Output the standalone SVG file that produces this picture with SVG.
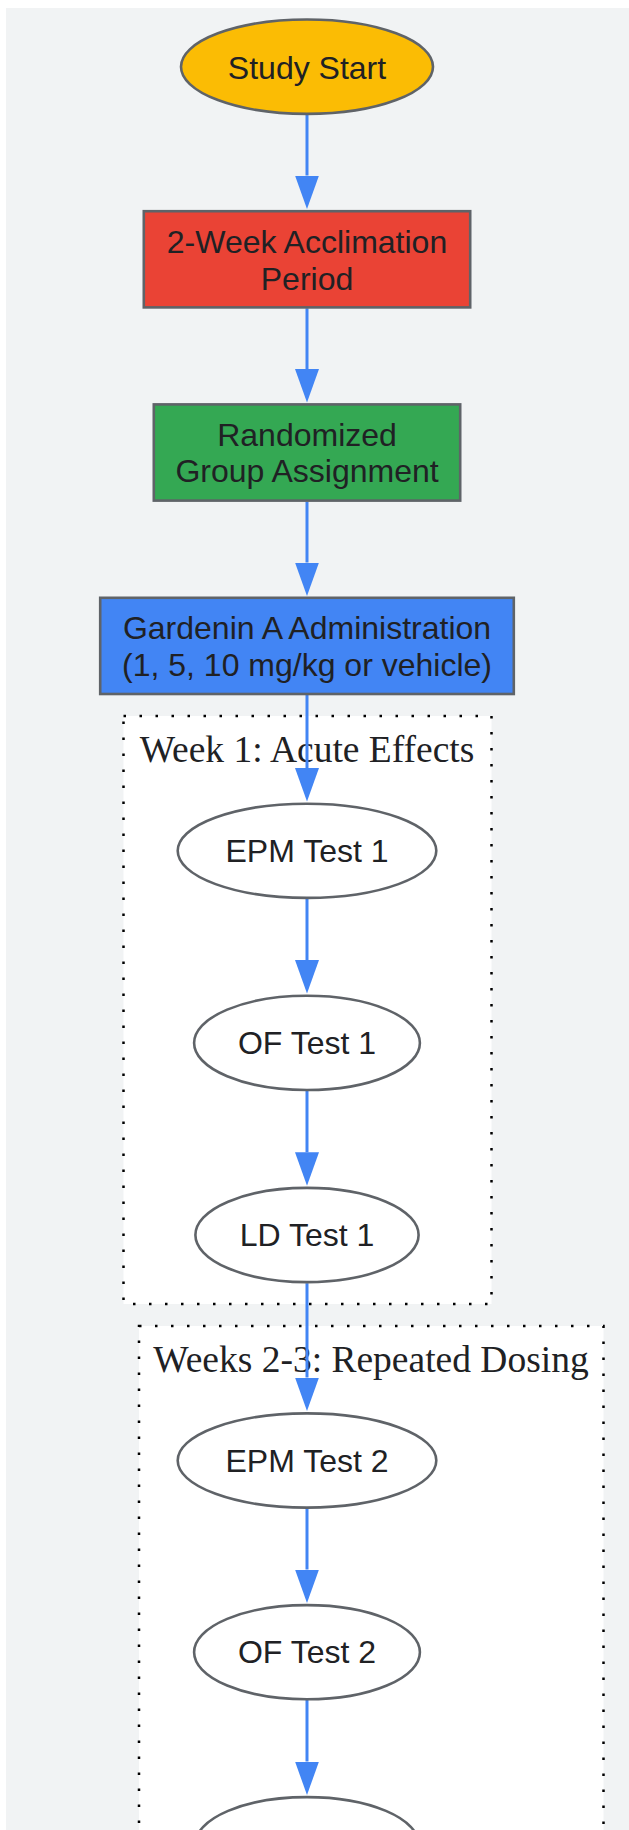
<svg xmlns="http://www.w3.org/2000/svg" width="629" height="1830" viewBox="0 0 629 1830">
<style>
.bg{fill:#F1F3F4}
.cl{fill:#ffffff;stroke:#000000;stroke-width:2.5;stroke-dasharray:2.5 13.5}
.ct{font-family:"Liberation Serif","Times New Roman",serif;font-size:37.5px;fill:#202124;text-anchor:middle}
.nd{stroke:#5F6368;stroke-width:2.6}
.t{font-family:"Liberation Sans",Arial,sans-serif;font-size:32px;fill:#202124;text-anchor:middle}
.e{stroke:#4285F4;stroke-width:3;fill:none;marker-end:url(#ah)}
</style>
<defs>
<marker id="ah" markerUnits="userSpaceOnUse" markerWidth="34" markerHeight="24" viewBox="0 0 34 24" refX="0" refY="12" orient="auto">
<path d="M0,0 L33.5,12 L0,24 Z" fill="#4285F4"/>
</marker>
</defs>
<rect class="bg" x="6" y="8" width="623" height="1822"/>
<g id="cluster_week1">
<rect class="cl" x="123.5" y="716" width="368" height="588"/>
<text class="ct" x="307" y="761.5">Week 1: Acute Effects</text>
</g>
<g id="cluster_weeks23">
<rect class="cl" x="139" y="1326" width="464.5" height="560"/>
<text class="ct" x="371" y="1372">Weeks 2-3: Repeated Dosing</text>
</g>
<g id="connectors">
<path class="e" d="M307,115 V175.5"/>
<path class="e" d="M307,308.3 V369"/>
<path class="e" d="M307,501.7 V562.5"/>
<path class="e" d="M307,695 V768"/>
<path class="e" d="M307,899 V960"/>
<path class="e" d="M307,1091 V1152.3"/>
<path class="e" d="M307,1283.2 V1377.5"/>
<path class="e" d="M307,1508.7 V1569.5"/>
<path class="e" d="M307,1700 V1761.5"/>
</g>
<g id="study_start">
<ellipse class="nd" cx="307" cy="66.7" rx="126" ry="47.2" fill="#FBBC04"/>
<text class="t" x="307" y="78.5">Study Start</text>
</g>
<g id="acclimation">
<rect class="nd" x="143.8" y="211.2" width="326.4" height="96.2" fill="#EA4335"/>
<text class="t" x="307" y="252.5">2-Week Acclimation</text>
<text class="t" x="307" y="289.5">Period</text>
</g>
<g id="randomization">
<rect class="nd" x="153.8" y="404.4" width="306.4" height="96.2" fill="#34A853"/>
<text class="t" x="307" y="445.5">Randomized</text>
<text class="t" x="307" y="482">Group Assignment</text>
</g>
<g id="administration">
<rect class="nd" x="100.2" y="597.8" width="413.6" height="96.2" fill="#4285F4"/>
<text class="t" x="307" y="639">Gardenin A Administration</text>
<text class="t" x="307" y="676">(1, 5, 10 mg/kg or vehicle)</text>
</g>
<g id="epm1">
<ellipse class="nd" cx="307" cy="850.8" rx="129.3" ry="47.1" fill="#ffffff"/>
<text class="t" x="307" y="862">EPM Test 1</text>
</g>
<g id="of1">
<ellipse class="nd" cx="307" cy="1042.9" rx="112.9" ry="47.1" fill="#ffffff"/>
<text class="t" x="307" y="1054">OF Test 1</text>
</g>
<g id="ld1">
<ellipse class="nd" cx="307" cy="1235" rx="111.6" ry="47.1" fill="#ffffff"/>
<text class="t" x="307" y="1246">LD Test 1</text>
</g>
<g id="epm2">
<ellipse class="nd" cx="307" cy="1460.5" rx="129.3" ry="47.1" fill="#ffffff"/>
<text class="t" x="307" y="1471.5">EPM Test 2</text>
</g>
<g id="of2">
<ellipse class="nd" cx="307" cy="1652.2" rx="112.9" ry="47.1" fill="#ffffff"/>
<text class="t" x="307" y="1663.2">OF Test 2</text>
</g>
<g id="ld2">
<ellipse class="nd" cx="307" cy="1844.2" rx="111.6" ry="47.1" fill="#ffffff"/>
</g>
</svg>
